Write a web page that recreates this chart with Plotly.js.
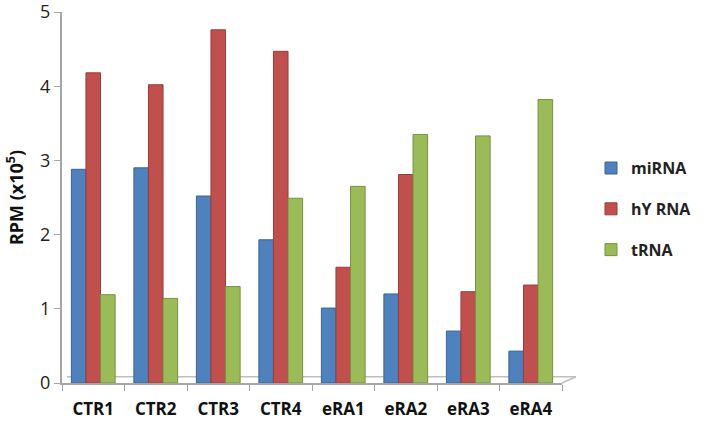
<!DOCTYPE html>
<html>
<head>
<meta charset="utf-8">
<script src="https://cdn.plot.ly/plotly-3.0.1.min.js"></script>
<style>
  body { margin: 0; background: #fff; }
  #rpmPlot { width: 709px; height: 422px; }
</style>
</head>
<body>
<div id="rpmPlot"></div>
<script>
var samples = ['CTR1', 'CTR2', 'CTR3', 'CTR4', 'eRA1', 'eRA2', 'eRA3', 'eRA4'];
var miRNA = [2.88, 2.9, 2.52, 1.93, 1.01, 1.2, 0.7, 0.43];
var hYRNA = [4.18, 4.02, 4.76, 4.47, 1.56, 2.81, 1.23, 1.32];
var tRNA = [1.19, 1.14, 1.3, 2.49, 2.65, 3.35, 3.33, 3.82];

function makeBar(y, name, color, edge) {
  return {
    x: samples,
    y: y,
    name: name,
    legendgroup: name,
    type: 'bar',
    marker: {
      color: color,
      line: { color: edge, width: 1 }
    }
  };
}

var data = [
  makeBar(miRNA, 'miRNA', '#4F81BD', '#3A6496'),
  makeBar(hYRNA, 'hY RNA', '#C0504D', '#9A3B39'),
  makeBar(tRNA, 'tRNA', '#9BBB59', '#769340')
];

var layout = {
  width: 709,
  height: 422,
  margin: { l: 62, r: 112, t: 12, b: 39 },
  paper_bgcolor: '#fff',
  plot_bgcolor: '#fff',
  font: { family: 'Open Sans, sans-serif', color: '#222' },
  barmode: 'group',
  bargap: 0.3,
  bargroupgap: 0,
  showlegend: true,
  legend: {
    x: 1.058,
    y: 0.625,
    xanchor: 'left',
    yanchor: 'top',
    font: { size: 16, weight: 'bold', color: '#222' },
    itemwidth: 30,
    tracegroupgap: 17
  },
  // back edge of the floor, as in the 3D original
  shapes: [
    { type: 'line', xref: 'paper', yref: 'paper', layer: 'below',
      x0: 0.01, y0: 0.017, x1: 1.028, y1: 0.017,
      line: { color: '#bfbfbf', width: 1.5 } },
    { type: 'line', xref: 'paper', yref: 'paper', layer: 'below',
      x0: 1.0, y0: 0, x1: 1.028, y1: 0.017,
      line: { color: '#bfbfbf', width: 1.5 } }
  ],
  xaxis: {
    showgrid: false,
    showline: true,
    linecolor: '#a6a6a6',
    linewidth: 2,
    ticks: 'outside',
    tickcolor: '#a6a6a6',
    ticklen: 6,
    tickson: 'boundaries',
    ticklabelstandoff: 10,
    tickfont: { size: 17, weight: 'bold', color: '#111' }
  },
  yaxis: {
    range: [0, 5],
    dtick: 1,
    showgrid: false,
    zeroline: false,
    showline: true,
    linecolor: '#a6a6a6',
    linewidth: 2,
    ticks: 'outside',
    tickcolor: '#a6a6a6',
    ticklen: 6,
    ticklabeloverflow: 'allow',
    tickfont: { size: 18, color: '#222' },
    title: {
      text: 'RPM (x10<sup>5</sup>)',
      font: { size: 18, weight: 'bold', color: '#111' },
      standoff: 12
    }
  }
};

Plotly.newPlot('rpmPlot', data, layout, { displayModeBar: false, staticPlot: true });
</script>
</body>
</html>
